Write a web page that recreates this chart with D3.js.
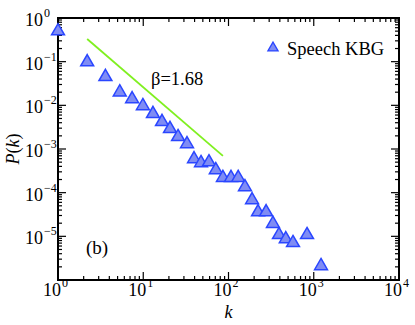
<!DOCTYPE html>
<html>
<head>
<meta charset="utf-8">
<script src="https://cdn.jsdelivr.net/npm/d3@7"></script>
<style>
  body { margin: 0; background: #fff; }
  text { font-family: "Liberation Serif", "Times New Roman", serif; fill: #000; }
</style>
</head>
<body>
<div id="grafico"></div>
<script>
const WIDTH = 415;
const HEIGHT = 325;

// data
const kValues = [1, 2.2, 3.6, 5.3, 7.4, 9.9, 13, 16.6, 20.6, 25.6, 32.6, 39.4, 47.6, 59, 71, 86, 107, 130, 156, 189, 222, 276, 332, 391, 470, 571, 834, 1217];
const pValues = [0.5, 0.098, 0.045, 0.02, 0.014, 0.0097, 0.0064, 0.0042, 0.0029, 0.0019, 0.0013, 0.00059, 0.00048, 0.0005, 0.00033, 0.00022, 0.00022, 0.00022, 0.000135, 6.8e-5, 3.6e-5, 3.6e-5, 1.95e-5, 1.08e-5, 8.7e-6, 7.1e-6, 1.08e-5, 2.1e-6];
const fitK = [2.2, 86];
const fitP = [0.33, 0.33 * Math.pow(86 / 2.2, -1.68)];
const xTickExp = [0, 1, 2, 3, 4];
const yTickExp = [0, -1, -2, -3, -4, -5, -6];
const yLabelExp = [0, -1, -2, -3, -4, -5];
const seriesName = "Speech KBG";
const betaLabel = "β=1.68";
const panelLabel = "(b)";

const plotLeft = 58, plotRight = 399, plotTop = 18, plotBottom = 280;

let svg = d3.select("#grafico")
    .append("svg")
    .attr("width", WIDTH)
    .attr("height", HEIGHT);

let x = d3.scaleLog().domain([1, 1e4]).range([plotLeft, plotRight]);
let y = d3.scaleLog().domain([1e-6, 1]).range([plotBottom, plotTop]);

// ticks (inside, on all four sides)
let ticks = svg.append("g").attr("stroke", "black").attr("stroke-width", 1.2);
function minorList(lo, hi) {
    let out = [];
    for (let e = lo; e < hi; e++) {
        for (let m = 2; m <= 9; m++) out.push(m * Math.pow(10, e));
    }
    return out;
}
xTickExp.forEach((e) => {
    let px = x(Math.pow(10, e));
    ticks.append("line").attr("x1", px).attr("x2", px).attr("y1", plotBottom).attr("y2", plotBottom - 8);
    ticks.append("line").attr("x1", px).attr("x2", px).attr("y1", plotTop).attr("y2", plotTop + 8);
});
minorList(0, 4).forEach((v) => {
    let px = x(v);
    ticks.append("line").attr("x1", px).attr("x2", px).attr("y1", plotBottom).attr("y2", plotBottom - 4);
    ticks.append("line").attr("x1", px).attr("x2", px).attr("y1", plotTop).attr("y2", plotTop + 4);
});
yTickExp.forEach((e) => {
    let py = y(Math.pow(10, e));
    ticks.append("line").attr("x1", plotLeft).attr("x2", plotLeft + 8).attr("y1", py).attr("y2", py);
    ticks.append("line").attr("x1", plotRight).attr("x2", plotRight - 8).attr("y1", py).attr("y2", py);
});
minorList(-6, 0).forEach((v) => {
    let py = y(v);
    ticks.append("line").attr("x1", plotLeft).attr("x2", plotLeft + 4).attr("y1", py).attr("y2", py);
    ticks.append("line").attr("x1", plotRight).attr("x2", plotRight - 4).attr("y1", py).attr("y2", py);
});

// frame
svg.append("rect")
    .attr("x", plotLeft).attr("y", plotTop)
    .attr("width", plotRight - plotLeft).attr("height", plotBottom - plotTop)
    .attr("fill", "none").attr("stroke", "black").attr("stroke-width", 2);

// tick labels: "10" plus a raised exponent
xTickExp.forEach((e) => {
    let px = x(Math.pow(10, e));
    svg.append("text")
        .attr("x", px + 3)
        .attr("y", 296)
        .attr("text-anchor", "end")
        .style("font-size", "18px")
        .text("10");
    svg.append("text")
        .attr("x", px + 4)
        .attr("y", 287)
        .style("font-size", "12px")
        .text(e);
});
yLabelExp.forEach((e) => {
    let py = y(Math.pow(10, e));
    svg.append("text")
        .attr("x", 43)
        .attr("y", py + 8)
        .attr("text-anchor", "end")
        .style("font-size", "18px")
        .text("10");
    svg.append("text")
        .attr("x", 44)
        .attr("y", py - 1)
        .style("font-size", "12px")
        .text(e === 0 ? "0" : "\u2212" + (-e));
});

// axis titles
let yl = svg.append("text")
    .attr("transform", "translate(19," + ((plotTop + plotBottom) / 2) + ") rotate(-90)")
    .attr("text-anchor", "middle")
    .style("font-size", "18px");
yl.append("tspan").style("font-style", "italic").text("P");
yl.append("tspan").text("(");
yl.append("tspan").style("font-style", "italic").text("k");
yl.append("tspan").text(")");

svg.append("text")
    .attr("x", x(100))
    .attr("y", 318)
    .attr("text-anchor", "middle")
    .style("font-size", "18px")
    .style("font-style", "italic")
    .text("k");

// fit line
svg.append("line")
    .attr("x1", x(fitK[0])).attr("y1", y(fitP[0]))
    .attr("x2", x(fitK[1])).attr("y2", y(fitP[1]))
    .attr("stroke", "#80f020")
    .attr("stroke-width", 1.8);

// triangles
let tri = d3.symbol().type(d3.symbolTriangle).size(72);
svg.append("g").selectAll("path")
    .data(kValues.map((k, i) => [k, pValues[i]]))
    .enter()
    .append("path")
    .attr("d", tri)
    .attr("transform", (d) => "translate(" + x(d[0]) + "," + y(d[1]) + ")")
    .attr("fill", "#7f8cf4")
    .attr("stroke", "#2a46ff")
    .attr("stroke-width", 1.5);

// legend
svg.append("path")
    .attr("d", d3.symbol().type(d3.symbolTriangle).size(45))
    .attr("transform", "translate(273,48)")
    .attr("fill", "#7f8cf4")
    .attr("stroke", "#2a46ff")
    .attr("stroke-width", 1.3);
svg.append("text")
    .attr("x", 287).attr("y", 55)
    .style("font-size", "18.5px")
    .text(seriesName);

svg.append("text")
    .attr("x", 151).attr("y", 85)
    .style("font-size", "18.5px")
    .text(betaLabel);

svg.append("text")
    .attr("x", 86).attr("y", 254)
    .style("font-size", "19px")
    .text(panelLabel);
</script>
</body>
</html>
